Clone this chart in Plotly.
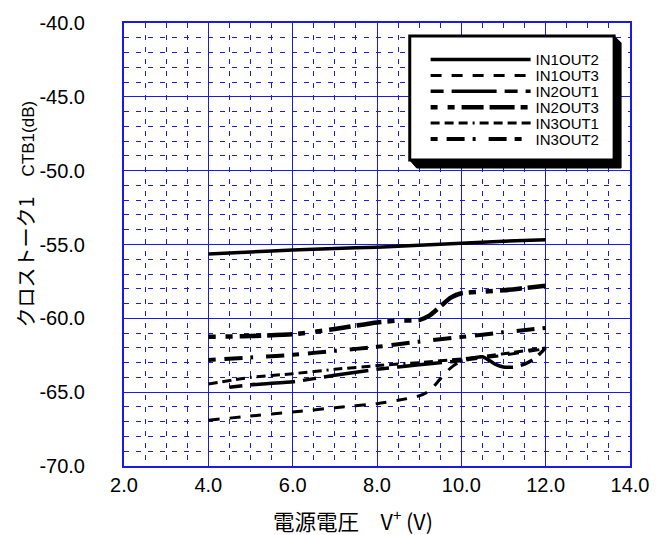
import plotly.graph_objects as go

# ---- data ----
x_in1out2 = [4, 5, 6, 7, 8, 9, 10, 11, 12]
y_in1out2 = [-55.65, -55.5, -55.38, -55.27, -55.18, -55.05, -54.92, -54.78, -54.68]

x_in1out3 = [4, 5, 6, 7, 8, 8.5, 9, 9.25, 9.5, 9.75, 10, 11, 12]
y_in1out3 = [-66.9, -66.62, -66.35, -66.05, -65.78, -65.55, -65.25, -64.9, -64.1, -63.35, -62.9, -62.5, -62.05]

x_in2out1 = [4.5, 5, 6, 7, 8, 9, 10, 10.5, 10.8, 11, 11.25, 11.5, 11.75, 12]
y_in2out1 = [-64.66, -64.5, -64.3, -63.85, -63.45, -63.15, -62.85, -62.6, -63.1, -63.3, -63.3, -63.1, -62.7, -62.0]

x_in2out3 = [4, 5, 6, 7, 8, 8.5, 9, 9.25, 9.5, 9.75, 10, 10.5, 11, 11.5, 12]
y_in2out3 = [-61.25, -61.2, -61.08, -60.72, -60.28, -60.15, -60.12, -59.8, -59.2, -58.6, -58.3, -58.2, -58.1, -57.95, -57.8]

x_in3out1 = [4, 5, 6, 7, 8, 9, 10, 11, 12]
y_in3out1 = [-64.44, -64.0, -63.75, -63.45, -63.2, -63.0, -62.75, -62.4, -62.0]

x_in3out2 = [4, 5, 6, 7, 8, 9, 10, 11, 12]
y_in3out2 = [-62.82, -62.65, -62.47, -62.2, -61.93, -61.58, -61.26, -60.95, -60.65]

series_names = ["IN1OUT2", "IN1OUT3", "IN2OUT1", "IN2OUT3", "IN3OUT1", "IN3OUT2"]

x_ticks = [2, 4, 6, 8, 10, 12, 14]
y_ticks = [-70, -65, -60, -55, -50, -45, -40]

x_title = "電源電圧　V<sup>+</sup> (V)"
y_title_jp = "クロストーク1"
y_title_en = "CTB1(dB)"

# ---- styles ----
styles = {
    "IN1OUT2": dict(width=3.5, dash="solid"),
    "IN1OUT3": dict(width=3, dash="11px,10px"),
    "IN2OUT1": dict(width=3.5, dash="13px,8px,45px,8px"),
    "IN2OUT3": dict(width=4.5, dash="7px,10px,7px,7px,22px,6px,25px,6px"),
    "IN3OUT1": dict(width=3, dash="9px,5px,9px,5px,9px,5px,2px,5px,9px,5px,9px,5px"),
    "IN3OUT2": dict(width=4, dash="7px,9px,18px,8px,3px,13px,18px,8px"),
}
data = {
    "IN1OUT2": (x_in1out2, y_in1out2),
    "IN1OUT3": (x_in1out3, y_in1out3),
    "IN2OUT1": (x_in2out1, y_in2out1),
    "IN2OUT3": (x_in2out3, y_in2out3),
    "IN3OUT1": (x_in3out1, y_in3out1),
    "IN3OUT2": (x_in3out2, y_in3out2),
}

FONT = "Liberation Sans, Arial, Noto Sans CJK JP"
GRID = "#1a1ae0"

W, H = 661, 535
L, R, T, B = 124, 27, 20, 69
pw, ph = W - L - R, H - T - B


def px(xp):
    return (xp - L) / pw


def py(yp):
    return (H - B - yp) / ph


fig = go.Figure()
legend_rows = [57, 73, 89, 105, 121, 137]
legend_layout = {}
for i, name in enumerate(series_names):
    xs, ys = data[name]
    st = styles[name]
    lg = "legend" if i == 0 else "legend%d" % (i + 1)
    fig.add_trace(go.Scatter(
        x=xs, y=ys, name=name, mode="lines", legend=lg,
        line=dict(color="black", width=st["width"], dash=st["dash"], shape="spline", smoothing=0.6),
    ))
    legend_layout[lg] = dict(
        x=px(428), y=py(legend_rows[i]), xanchor="left", yanchor="middle",
        bgcolor="rgba(0,0,0,0)", borderwidth=0,
        font=dict(family="Liberation Sans, Arial", size=15, color="black"),
        itemwidth=100,
    )

# legend box + shadow (decoration)
shadow_path = "M {},{} L {},{} L {},{} L {},{} L {},{} L {},{} Z".format(
    px(412), py(158), px(419), py(166), px(625), py(166), px(625), py(40), px(618), py(33), px(618), py(158))
fig.add_shape(type="path", xref="paper", yref="paper", path=shadow_path,
              fillcolor="black", line=dict(color="black", width=1), layer="above")
fig.add_shape(type="rect", xref="paper", yref="paper",
              x0=px(412), x1=px(618), y0=py(158), y1=py(33),
              fillcolor="white", line=dict(color="black", width=3), layer="above")

# axis titles (placed as in the reference, off-centre)
fig.add_annotation(
    xref="paper", yref="paper", x=px(355), y=py(520), xanchor="center", yanchor="middle",
    text=x_title, showarrow=False,
    font=dict(family="Noto Sans CJK JP, Liberation Sans", size=21.5, color="black"),
)
fig.add_annotation(
    xref="paper", yref="paper", x=px(25), y=py(212), xanchor="center", yanchor="middle",
    text=y_title_jp + "　<span style='font-family:Liberation Sans;font-size:17px'>" + y_title_en + "</span>",
    textangle=-90, showarrow=False,
    font=dict(family="Noto Sans CJK JP, Liberation Sans", size=20, color="black"),
)

fig.update_layout(
    width=W, height=H,
    margin=dict(l=L, r=R, t=T, b=B, pad=0),
    paper_bgcolor="white", plot_bgcolor="white",
    font=dict(family=FONT, color="black"),
    showlegend=True,
    **legend_layout,
    xaxis=dict(
        range=[2, 14], tickvals=x_ticks, ticktext=["%.1f" % v for v in x_ticks],
        showgrid=True, gridcolor=GRID, gridwidth=1,
        showline=True, linecolor=GRID, linewidth=2, mirror=True,
        ticks="", zeroline=False, ticklabelstandoff=0,
        tickfont=dict(family=FONT, size=20, color="black"),
        minor=dict(dtick=0.5, showgrid=True, gridcolor=GRID, gridwidth=1, griddash="5px,7px"),
    ),
    yaxis=dict(
        range=[-70, -40], tickvals=y_ticks, ticktext=["%.1f" % v for v in y_ticks],
        showgrid=True, gridcolor=GRID, gridwidth=1,
        showline=True, linecolor=GRID, linewidth=2, mirror=True,
        ticks="", zeroline=False, ticklabelstandoff=33,
        tickfont=dict(family=FONT, size=20, color="black"),
        minor=dict(dtick=1, showgrid=True, gridcolor=GRID, gridwidth=1, griddash="5px,7px"),
    ),
)

fig.write_html("out.html")
